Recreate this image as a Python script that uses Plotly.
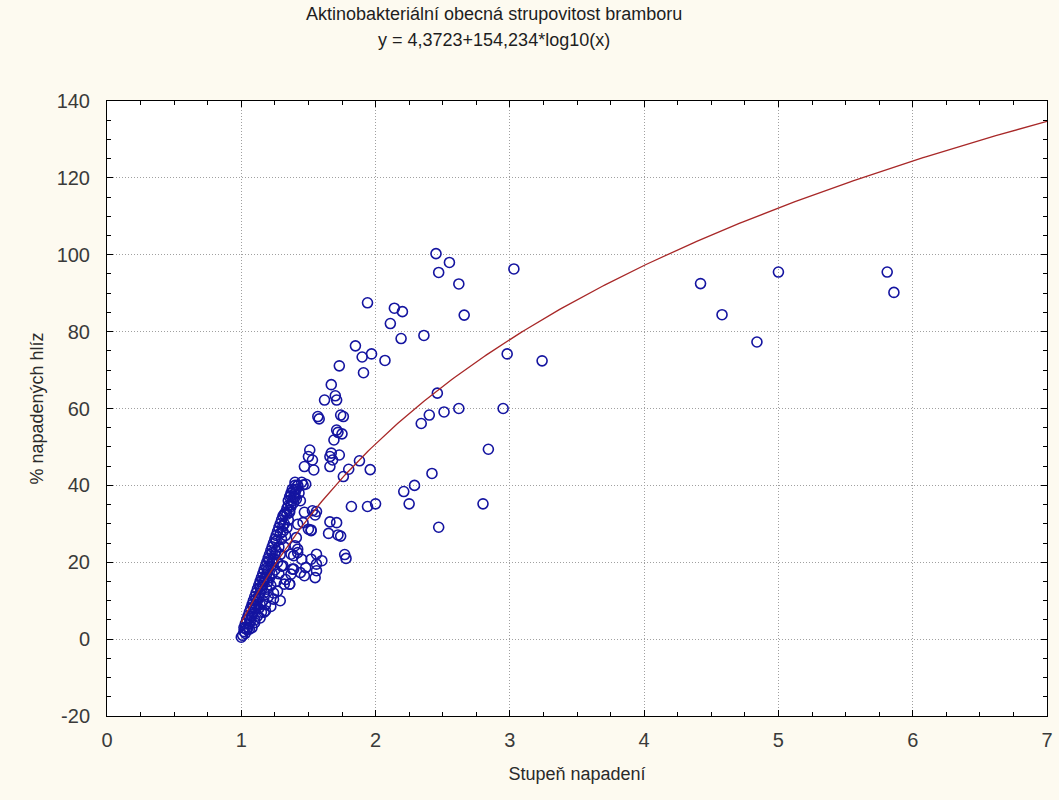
import numpy as np
import plotly.graph_objects as go

# Regression coefficients: y = a + b*log10(x)
fit_a = 4.3723
fit_b = 154.234

# Degree of infestation (x) for each sampled lot
stupen_napadeni = [
    # dense band near the origin
    1.00, 1.01, 1.02, 1.02, 1.03, 1.03, 1.04, 1.04, 1.05, 1.05, 1.06, 1.06,
    1.07, 1.07, 1.08, 1.08, 1.08, 1.09, 1.09, 1.10, 1.10, 1.10, 1.11, 1.11,
    1.12, 1.12, 1.12, 1.13, 1.13, 1.13, 1.14, 1.14, 1.14, 1.15, 1.15, 1.15,
    1.16, 1.16, 1.16, 1.17, 1.17, 1.17, 1.18, 1.18, 1.18, 1.19, 1.19, 1.19,
    1.20, 1.20, 1.20, 1.20, 1.21, 1.21, 1.22, 1.22, 1.22, 1.23, 1.23, 1.23,
    1.24, 1.24, 1.24, 1.25, 1.25, 1.25, 1.26, 1.26, 1.26, 1.27, 1.27, 1.28,
    1.28, 1.28, 1.29, 1.29, 1.30, 1.30, 1.30, 1.31, 1.31, 1.32, 1.32, 1.33,
    1.33, 1.34, 1.34, 1.35, 1.35, 1.36, 1.36, 1.37, 1.37, 1.38, 1.38, 1.39,
    1.40, 1.40, 1.41, 1.42, 1.43, 1.44,
    1.03, 1.06, 1.09, 1.11, 1.14, 1.16, 1.19, 1.21, 1.23, 1.26, 1.29, 1.31,
    1.34, 1.37, 1.39,
    # lower edge of the band
    1.06, 1.10, 1.14, 1.17, 1.18, 1.22, 1.24, 1.27, 1.29, 1.31, 1.32, 1.33,
    1.36, 1.36, 1.37, 1.38, 1.39, 1.39, 1.40, 1.42, 1.44, 1.47, 1.48, 1.52,
    1.55, 1.56, 1.56, 1.56, 1.60, 1.37, 1.41, 1.42, 1.45, 1.42, 1.46, 1.50,
    1.52, 1.77, 1.78,
    # upper edge of the band
    1.32, 1.35, 1.36, 1.37, 1.39, 1.40, 1.40, 1.41, 1.42, 1.45, 1.46, 1.48,
    1.47, 1.53,
    # scattered middle group
    1.51, 1.50, 1.53, 1.47, 1.54, 1.67, 1.66, 1.68, 1.73, 1.66, 1.56, 1.55,
    1.66, 1.71, 1.65, 1.72, 1.74, 1.52, 1.82, 1.94, 2.00, 1.96, 1.88, 1.80,
    1.76, 1.57, 1.58, 1.74, 1.76, 1.71, 1.72, 1.75, 1.69, 1.62, 1.70, 1.71,
    1.67, 1.73, 1.91, 1.85, 1.97, 1.90, 2.07, 1.94, 2.14, 2.20, 2.11, 2.19,
    2.36, 2.45, 2.55, 2.47, 2.62, 2.66, 3.03, 2.98, 3.24, 2.46, 2.51, 2.62,
    2.95, 2.40, 2.34, 2.84, 2.42, 2.29, 2.21, 2.25, 2.80, 2.47,
    # high infestation lots
    4.42, 4.58, 4.84, 5.00, 5.81, 5.86,
]

# Percentage of infested tubers for the same lots
procento_hliz = [
    0.5, 1.0, 2.0, 3.0, 1.5, 4.0, 2.5, 5.0, 3.0, 6.0, 4.0, 7.0,
    5.0, 8.0, 3.0, 6.0, 9.0, 7.0, 10.0, 5.0, 8.0, 11.0, 9.0, 12.0,
    6.0, 10.0, 13.0, 8.0, 11.0, 14.0, 9.0, 12.0, 15.0, 7.0, 13.0, 16.0,
    10.0, 14.0, 17.0, 12.0, 15.0, 18.0, 9.0, 16.0, 19.0, 13.0, 17.0, 20.0,
    11.0, 15.0, 18.0, 21.0, 16.0, 22.0, 14.0, 19.0, 23.0, 17.0, 20.0, 24.0,
    12.0, 21.0, 25.0, 18.0, 22.0, 26.0, 15.0, 23.0, 27.0, 20.0, 28.0, 17.0,
    24.0, 29.0, 22.0, 30.0, 19.0, 26.0, 31.0, 28.0, 32.0, 24.0, 30.0, 27.0,
    33.0, 29.0, 34.0, 31.0, 36.0, 33.0, 37.0, 35.0, 38.0, 36.0, 39.0, 37.0,
    38.0, 40.0, 39.0, 40.0, 38.0, 36.0,
    2.8, 5.5, 8.5, 10.5, 13.5, 15.5, 18.5, 20.5, 22.5, 25.5, 27.5, 29.5,
    32.5, 34.5, 35.5,
    2.6, 4.3, 5.5, 7.0, 7.4, 8.5, 10.4, 12.5, 10.0, 19.1, 14.3, 15.5,
    14.3, 14.3, 16.9, 18.2, 18.2, 21.7, 24.3, 22.5, 17.3, 16.5, 18.6, 20.8,
    16.0, 22.1, 19.5, 17.8, 20.4, 22.1, 26.4, 23.4, 20.8, 29.9, 30.3, 28.6,
    28.2, 22.0, 21.0,
    32.5, 34.7, 33.4, 37.3, 38.6, 40.8, 36.9, 36.4, 39.9, 40.8, 40.1, 40.3,
    33.0, 33.4,
    49.2, 47.5, 46.6, 44.9, 44.0, 48.4, 47.5, 46.6, 47.9, 44.9, 33.2, 32.3,
    30.5, 30.3, 27.5, 27.1, 26.8, 28.4, 34.5, 34.5, 35.2, 44.1, 46.4, 44.2,
    42.3, 57.9, 57.3, 58.3, 57.9, 54.4, 53.8, 53.4, 51.8, 62.2, 63.3, 62.2,
    66.2, 71.1, 69.3, 76.3, 74.2, 73.4, 72.5, 87.5, 86.1, 85.2, 82.1, 78.2,
    79.0, 100.3, 98.0, 95.4, 92.4, 84.3, 96.3, 74.2, 72.4, 64.0, 59.1, 60.0,
    60.0, 58.3, 56.1, 49.4, 43.1, 40.0, 38.4, 35.2, 35.2, 29.1,
    92.5, 84.4, 77.3, 95.5, 95.5, 90.2,
]

x_ticks = [0, 1, 2, 3, 4, 5, 6, 7]
y_ticks = [-20, 0, 20, 40, 60, 80, 100, 120, 140]

title_line1 = "Aktinobakteriální obecná strupovitost bramboru"
title_line2 = "y = 4,3723+154,234*log10(x)"

# Fitted curve over the plotted x span
curve_x = np.linspace(1.0, 7.0, 300)
curve_y = fit_a + fit_b * np.log10(curve_x)

TEXT_FONT = "Liberation Sans, Arial, sans-serif"

fig = go.Figure()

fig.add_trace(go.Scatter(
    x=stupen_napadeni, y=procento_hliz,
    mode="markers",
    marker=dict(symbol="circle-open", size=10, color="#1414a0",
                line=dict(width=1.6, color="#1414a0")),
    showlegend=False, hoverinfo="x+y",
))

fig.add_trace(go.Scatter(
    x=curve_x, y=curve_y,
    mode="lines",
    line=dict(color="#a82828", width=1.3),
    showlegend=False, hoverinfo="skip",
))

axis_common = dict(
    showline=True, linecolor="black", linewidth=1, mirror="ticks",
    ticks="inside", ticklen=6, tickcolor="black", tickwidth=1,
    showgrid=True, gridcolor="#a0a0a0", griddash="1px,2px", gridwidth=1,
    zeroline=False,
    tickfont=dict(family=TEXT_FONT, size=20, color="#3a3a3a"),
    title_font=dict(family=TEXT_FONT, size=18, color="#2a2a2a"),
)

fig.update_xaxes(
    range=[0, 7], tickvals=x_ticks, ticktext=[str(v) for v in x_ticks],
    minor=dict(dtick=0.25, ticks="inside", ticklen=4, tickcolor="black",
               tickwidth=1, showgrid=False),
    title_text="Stupeň napadení", title_standoff=17,
    ticklabelstandoff=6,
    **axis_common,
)
fig.update_yaxes(
    range=[-20, 140], tickvals=y_ticks, ticktext=[str(v) for v in y_ticks],
    minor=dict(dtick=5, ticks="inside", ticklen=4, tickcolor="black",
               tickwidth=1, showgrid=False),
    title_text="% napadených hlíz", title_standoff=8,
    ticklabelstandoff=12,
    **axis_common,
)

fig.update_layout(
    width=1059, height=800,
    margin=dict(l=107, r=6, t=101, b=84),
    paper_bgcolor="#fdfaf0",
    plot_bgcolor="white",
    annotations=[
        dict(text=title_line1, xref="paper", yref="paper", x=0.412, y=1.0,
             yshift=87, xanchor="center", yanchor="middle", showarrow=False,
             font=dict(family=TEXT_FONT, size=18, color="#1e1e1e")),
        dict(text=title_line2, xref="paper", yref="paper", x=0.412, y=1.0,
             yshift=61, xanchor="center", yanchor="middle", showarrow=False,
             font=dict(family=TEXT_FONT, size=18, color="#1e1e1e")),
    ],
)

fig.write_html("out.html")
